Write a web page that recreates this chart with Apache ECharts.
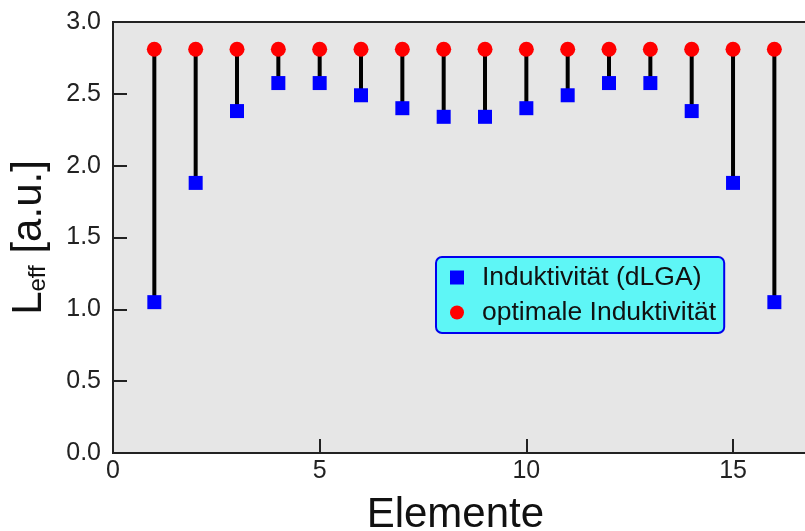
<!DOCTYPE html>
<html>
<head>
<meta charset="utf-8">
<script src="https://cdn.jsdelivr.net/npm/echarts@6/dist/echarts.min.js"></script>
<style>
  html, body { margin: 0; padding: 0; background: #ffffff; }
  #chart { width: 805px; height: 531px; }
</style>
</head>
<body>
<div id="chart"></div>
<script>
// Element indices along the array
const elements = [1, 2, 3, 4, 5, 6, 7, 8, 9, 10, 11, 12, 13, 14, 15, 16];
// Effective inductance reached with the dLGA layout
const dlgaValues = [1.05, 1.88, 2.38, 2.575, 2.575, 2.49, 2.40, 2.34, 2.34, 2.40, 2.49, 2.575, 2.575, 2.38, 1.88, 1.05];
// Optimal inductance per element
const optimalValues = [2.81, 2.81, 2.81, 2.81, 2.81, 2.81, 2.81, 2.81, 2.81, 2.81, 2.81, 2.81, 2.81, 2.81, 2.81, 2.81];
// Axis tick values
const yTicks = [0, 0.5, 1.0, 1.5, 2.0, 2.5, 3.0];
const xTicks = [0, 5, 10, 15];

const seriesNameDlga = 'Induktivität (dLGA)';
const seriesNameOpt = 'optimale Induktivität';
const FONT = '"Liberation Sans", Arial, sans-serif';

const chart = echarts.init(document.getElementById('chart'), null, { renderer: 'canvas' });

const stemData = elements.map((e, i) => [e, dlgaValues[i], optimalValues[i]]);

chart.setOption({
  animation: false,
  backgroundColor: '#ffffff',
  textStyle: { fontFamily: FONT },
  grid: {
    left: 113,
    top: 22,
    height: 431,
    width: 702.7,
    outerBoundsMode: 'none',
    containLabel: false,
    show: true,
    backgroundColor: '#e6e6e6',
    borderColor: '#222222',
    borderWidth: 2
  },
  legend: {
    data: [
      { name: seriesNameDlga, icon: 'rect' },
      { name: seriesNameOpt, icon: 'circle' }
    ],
    orient: 'vertical',
    left: 436,
    top: 257,
    itemWidth: 14,
    itemHeight: 14,
    itemGap: 8,
    padding: [7, 8, 7, 14],
    backgroundColor: '#5ef6f6',
    borderColor: '#0000ee',
    borderWidth: 2,
    borderRadius: 6,
    textStyle: {
      fontFamily: FONT,
      fontSize: 26.5,
      color: '#111111',
      lineHeight: 26,
      padding: [0, 0, 0, 13]
    }
  },
  xAxis: {
    type: 'value',
    min: 0,
    max: 17,
    interval: 5,
    name: 'Elemente',
    nameLocation: 'middle',
    nameGap: 41,
    nameTextStyle: { fontFamily: FONT, fontSize: 42, color: '#111111', padding: [0, 18, 0, 0] },
    axisLine: { show: true, onZero: false, lineStyle: { color: '#222222', width: 2 } },
    axisTick: { show: true, inside: true, length: 14, lineStyle: { color: '#222222', width: 2 } },
    axisLabel: {
      fontFamily: FONT, fontSize: 25, color: '#222222', margin: 6,
      formatter: v => (xTicks.indexOf(v) >= 0 ? String(v) : '')
    },
    splitLine: { show: false }
  },
  yAxis: {
    type: 'value',
    min: 0,
    max: 3,
    interval: 0.5,
    name: '{a|L}{b|eff}{a| [a.u.]}',
    nameLocation: 'middle',
    nameRotate: 90,
    nameGap: 63,
    nameTextStyle: {
      rich: {
        a: { fontFamily: FONT, fontSize: 42, color: '#111111' },
        b: { fontFamily: FONT, fontSize: 24, color: '#111111', padding: [18, 0, 0, 0] }
      }
    },
    axisLine: { show: true, lineStyle: { color: '#222222', width: 2 } },
    axisTick: { show: true, inside: true, length: 14, lineStyle: { color: '#222222', width: 2 } },
    axisLabel: {
      fontFamily: FONT, fontSize: 25, color: '#222222', margin: 12,
      formatter: v => (yTicks.indexOf(v) >= 0 ? v.toFixed(1) : '')
    },
    splitLine: { show: false }
  },
  series: [
    {
      name: 'stems',
      type: 'custom',
      data: stemData,
      encode: { x: 0, y: [1, 2] },
      renderItem: (params, api) => {
        const p1 = api.coord([api.value(0), api.value(1)]);
        const p2 = api.coord([api.value(0), api.value(2)]);
        return {
          type: 'line',
          shape: { x1: p1[0], y1: p1[1], x2: p2[0], y2: p2[1] },
          style: { stroke: '#000000', lineWidth: 4 }
        };
      },
      z: 1
    },
    {
      name: seriesNameDlga,
      type: 'scatter',
      symbol: 'rect',
      symbolSize: 14,
      itemStyle: { color: '#0000ff', opacity: 1 },
      data: elements.map((e, i) => [e, dlgaValues[i]]),
      z: 3
    },
    {
      name: seriesNameOpt,
      type: 'scatter',
      symbol: 'circle',
      symbolSize: 15,
      itemStyle: { color: '#ff0000', opacity: 1 },
      data: elements.map((e, i) => [e, optimalValues[i]]),
      z: 3
    }
  ]
});
</script>
</body>
</html>
